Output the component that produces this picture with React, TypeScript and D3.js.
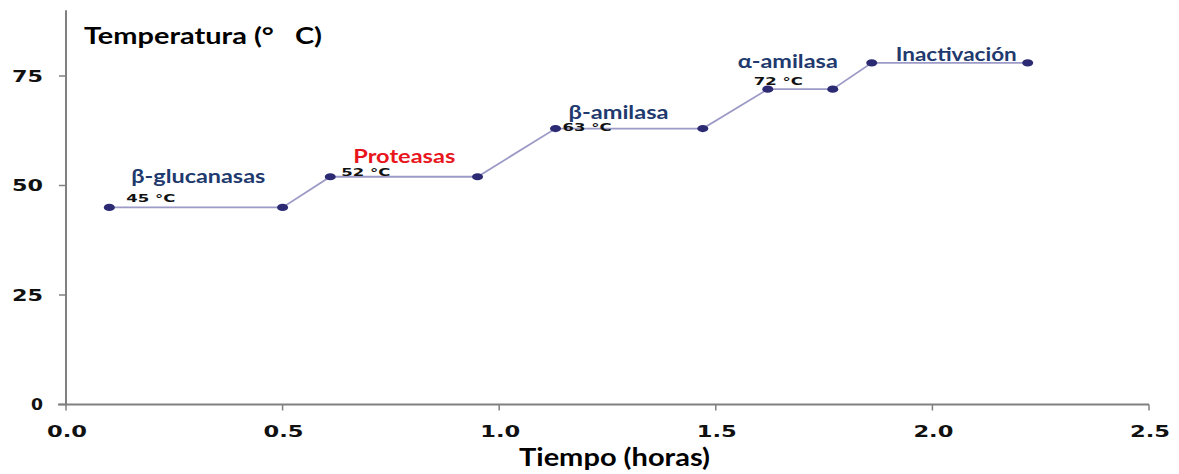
import React from "react";
import * as d3 from "d3";

// ---- data ----
const timeHours = [0.1, 0.5, 0.61, 0.95, 1.13, 1.47, 1.62, 1.77, 1.86, 2.22];
const temperatureC = [45, 45, 52, 52, 63, 63, 72, 72, 78, 78];
const phaseNames = ["β-glucanasas", "Proteasas", "β-amilasa", "α-amilasa", "Inactivación"];
const phaseStartIndex = [0, 2, 4, 6, 8];
const phaseTempLabels = ["45 °C", "52 °C", "63 °C", "72 °C", ""];
const xTicks = [0, 0.5, 1.0, 1.5, 2.0, 2.5];
const yTicks = [0, 25, 50, 75];

// ---- styles ----
const W = 1179;
const H = 474;
const NAVY = "#1f3a6e";
const RED = "#e8161c";
const phaseColors = [NAVY, RED, NAVY, NAVY, NAVY];
// label offsets relative to phase start point: [nameDx, nameDy, nameWidth, tempDx, tempDy]
const phaseLabelOffsets = [
  [22, -24, 134, 17, -5],
  [23, -14, 102, 11, -1],
  [13, -10, 100, 7, 2.5],
  [-30, -21, 100, -14, -4],
  [24, -2, 121, 0, 0],
];

export default function App() {
  const x = d3.scaleLinear().domain([0, 2.5]).range([66, 1149]);
  const y = d3.scaleLinear().domain([0, 90]).range([404.5, 10.3]);
  const pts = timeHours.map((t, i) => [x(t), y(temperatureC[i])] as [number, number]);
  const line = d3.line()(pts) || "";
  const axisColor = "#808080";
  const tickFont = "'DejaVu Sans', Verdana, sans-serif";
  const tickWidth = (s: string) =>
    s.split("").reduce((a, c) => a + (c === "." ? 11 : 14.5), 0);

  return (
    <svg
      width={W}
      height={H}
      style={{ position: "absolute", left: 0, top: 0, background: "#fff" }}
    >
      <rect x={0} y={0} width={W} height={H} fill="#fff" />
      {/* axes */}
      <line x1={66} x2={66} y1={y(90)} y2={y(0) + 1} stroke={axisColor} strokeWidth={2} />
      <line x1={58} x2={x(2.5)} y1={y(0)} y2={y(0)} stroke={axisColor} strokeWidth={2} />
      {yTicks.map((t) => (
        <g key={"y" + t}>
          <line x1={59} x2={66} y1={y(t)} y2={y(t)} stroke={axisColor} strokeWidth={1.5} />
          <text
            x={43}
            y={y(t) + 5.5}
            textAnchor="end"
            fontFamily={tickFont}
            fontWeight="bold"
            fontSize={15}
            fill="#111"
            textLength={String(t).length === 1 ? 12 : 31}
            lengthAdjust="spacingAndGlyphs"
          >
            {t}
          </text>
        </g>
      ))}
      {xTicks.map((t) => {
        const s = t.toFixed(1);
        return (
          <g key={"x" + t}>
            <line x1={x(t)} x2={x(t)} y1={y(0)} y2={y(0) + 6} stroke={axisColor} strokeWidth={1.5} />
            <text
              x={x(t) - tickWidth(s) / 2 + 1}
              y={437}
              fontFamily={tickFont}
              fontWeight="bold"
              fontSize={15}
              fill="#111"
              textLength={tickWidth(s)}
              lengthAdjust="spacingAndGlyphs"
            >
              {s}
            </text>
          </g>
        );
      })}

      {/* axis titles */}
      <text
        x={84}
        y={44}
        fontFamily="Lato, 'Open Sans', sans-serif"
        fontWeight="bold"
        fontSize={22}
        fill="#000"
        textLength={238}
        lengthAdjust="spacingAndGlyphs"
        xmlSpace="preserve"
      >
        {"Temperatura (°   C)"}
      </text>
      <text
        x={519}
        y={466}
        fontFamily="Lato, 'Open Sans', sans-serif"
        fontWeight="bold"
        fontSize={24}
        fill="#000"
        textLength={191}
        lengthAdjust="spacingAndGlyphs"
      >
        Tiempo (horas)
      </text>

      {/* series */}
      <path d={line} fill="none" stroke="#9c9ac6" strokeWidth={1.8} />
      {pts.map(([px, py], i) => (
        <ellipse key={i} cx={px} cy={py} rx={5.5} ry={3.6} fill="#2b2a72" />
      ))}

      {/* phase annotations */}
      {phaseNames.map((name, k) => {
        const [px, py] = pts[phaseStartIndex[k]];
        const [ndx, ndy, nw, tdx, tdy] = phaseLabelOffsets[k];
        return (
          <g key={name}>
            <text
              x={px + ndx}
              y={py + ndy}
              fontFamily="Lato, 'Open Sans', sans-serif"
              fontWeight="bold"
              fontSize={19}
              fill={phaseColors[k]}
              textLength={nw}
              lengthAdjust="spacingAndGlyphs"
            >
              {name}
            </text>
            {phaseTempLabels[k] && (
              <text
                x={px + tdx}
                y={py + tdy}
                fontFamily={tickFont}
                fontWeight="bold"
                fontSize={11}
                fill="#111"
                textLength={49}
                lengthAdjust="spacingAndGlyphs"
              >
                {phaseTempLabels[k]}
              </text>
            )}
          </g>
        );
      })}
    </svg>
  );
}
